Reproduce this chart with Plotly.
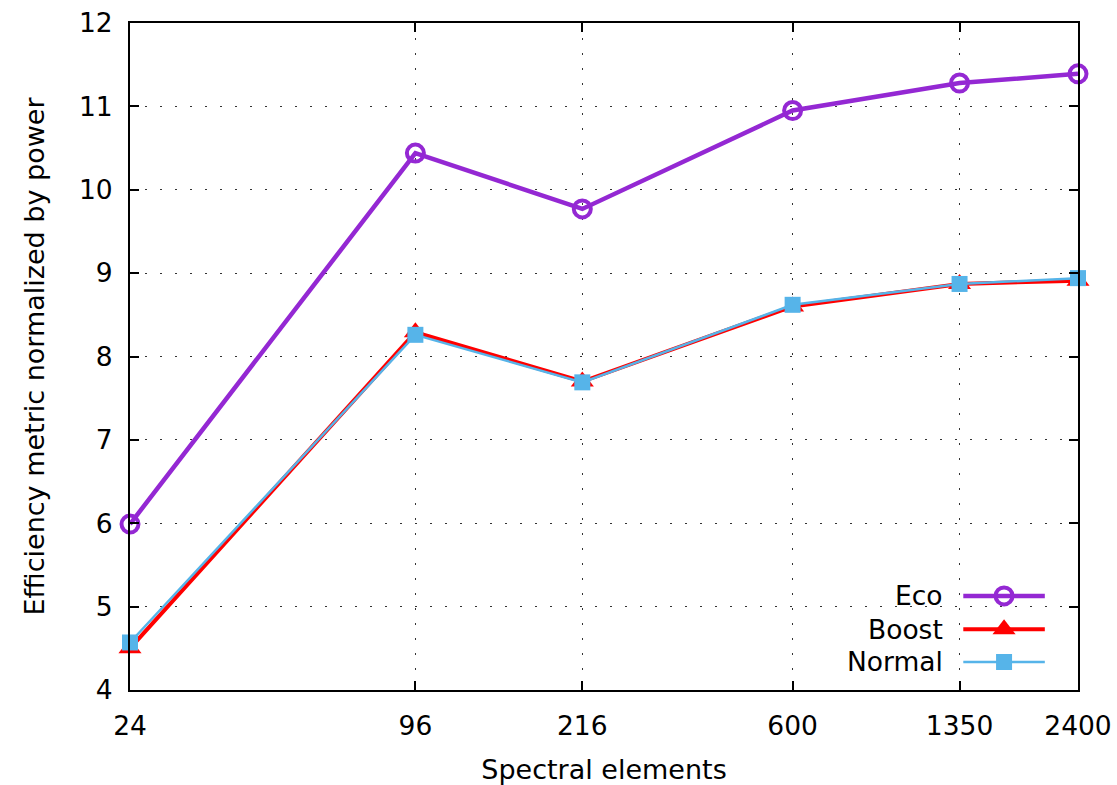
import numpy as np
import plotly.graph_objects as go

# Spectral elements (log-scaled x axis)
elements = [24, 96, 216, 600, 1350, 2400]
tick_labels = ["24", "96", "216", "600", "1350", "2400"]

# Efficiency metric normalized by power, per mode
eco = [5.99, 10.44, 9.77, 10.95, 11.28, 11.39]
boost = [4.50, 8.29, 7.70, 8.60, 8.87, 8.91]
normal = [4.57, 8.26, 7.69, 8.62, 8.87, 8.94]

series_names = ["Eco", "Boost", "Normal"]

PURPLE = "#9428D3"
RED = "#FF0000"
BLUE = "#56B4E9"
FONT = "DejaVu Sans"

fig = go.Figure()

styles = [
    (eco, PURPLE, 4.5, dict(symbol="circle-open", size=17, color=PURPLE, line=dict(width=4, color=PURPLE))),
    (boost, RED, 4, dict(symbol="triangle-up", size=20, color=RED)),
    (normal, BLUE, 2.5, dict(symbol="square", size=16, color=BLUE)),
]

for name, (vals, color, width, marker) in zip(series_names, styles):
    fig.add_trace(go.Scatter(
        x=elements, y=vals, mode="lines+markers", name=name,
        line=dict(color=color, width=width), marker=marker,
        showlegend=False, cliponaxis=False,
    ))

# Legend keys in the gnuplot style: text right-aligned, sample to its right
key_rows = [0.141, 0.091, 0.042]
key_x0, key_x1 = 0.879, 0.965
for name, (vals, color, width, marker), ky in zip(series_names, styles, key_rows):
    fig.add_trace(go.Scatter(
        x=[key_x0, (key_x0 + key_x1) / 2, key_x1], y=[ky, ky, ky],
        mode="lines", line=dict(color=color, width=width),
        xaxis="x2", yaxis="y2", showlegend=False, hoverinfo="skip",
    ))
    fig.add_trace(go.Scatter(
        x=[(key_x0 + key_x1) / 2], y=[ky], mode="markers", marker=marker,
        xaxis="x2", yaxis="y2", showlegend=False, hoverinfo="skip",
    ))
    fig.add_annotation(
        x=0.86, y=ky, xref="paper", yref="paper", text=name,
        showarrow=False, xanchor="right", yanchor="middle",
        font=dict(family=FONT, size=26.5, color="black"),
    )

grid_dash = "2px,13px"

fig.update_layout(
    width=1117, height=785,
    margin=dict(l=130, r=39, t=23, b=95),
    paper_bgcolor="white", plot_bgcolor="white",
    font=dict(family=FONT, size=26.5, color="black"),
    xaxis=dict(
        type="log",
        range=[np.log10(24), np.log10(2400)],
        tickvals=elements, ticktext=tick_labels,
        ticks="inside", ticklen=9, tickwidth=1.5, tickcolor="black",
        showline=True, linecolor="black", linewidth=2, mirror="ticks",
        showgrid=True, gridcolor="#333333", gridwidth=1, griddash=grid_dash,
        zeroline=False, automargin=False,
        ticklabelstandoff=11,
        title=dict(text="Spectral elements", font=dict(family=FONT, size=27), standoff=20),
        tickfont=dict(family=FONT, size=26.5),
    ),
    yaxis=dict(
        range=[4, 12], dtick=1,
        ticks="inside", ticklen=9, tickwidth=1.5, tickcolor="black",
        showline=True, linecolor="black", linewidth=2, mirror="ticks",
        showgrid=True, gridcolor="#333333", gridwidth=1, griddash=grid_dash,
        zeroline=False, automargin=False,
        ticklabelstandoff=10,
        title=dict(text="Efficiency metric normalized by power", font=dict(family=FONT, size=27), standoff=27),
        tickfont=dict(family=FONT, size=26.5),
    ),
    xaxis2=dict(range=[0, 1], overlaying="x", visible=False, fixedrange=True),
    yaxis2=dict(range=[0, 1], overlaying="y", visible=False, fixedrange=True),
)

fig.write_html("out.html")
